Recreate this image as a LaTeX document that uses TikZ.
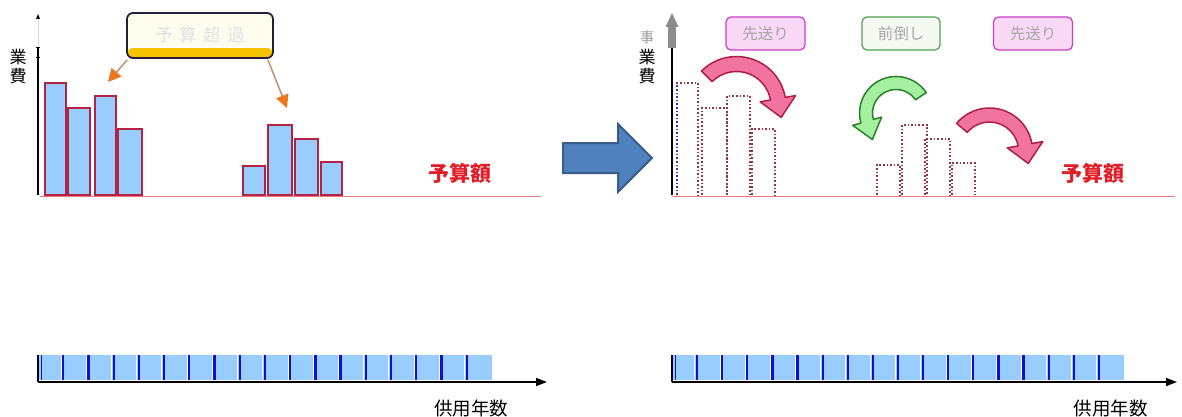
\documentclass[tikz,border=0pt]{standalone}
\usepackage{fontspec}
\newfontfamily\jp{Noto Sans CJK JP}
\usetikzlibrary{arrows.meta,calc}
\definecolor{barblue}{RGB}{153,204,255}
\definecolor{barred}{RGB}{180,35,65}
\definecolor{divblue}{RGB}{15,15,210}
\definecolor{budgetred}{RGB}{240,120,130}
\definecolor{labelred}{RGB}{225,30,40}
\definecolor{bigblue}{RGB}{79,129,189}
\definecolor{bigblueb}{RGB}{56,93,138}
\definecolor{pinkfill}{RGB}{240,115,160}
\definecolor{pinkdraw}{RGB}{175,30,70}
\definecolor{greenfill}{RGB}{165,240,160}
\definecolor{greendraw}{RGB}{40,130,40}
\definecolor{dotred}{RGB}{150,50,70}
\definecolor{dotpurple}{RGB}{90,40,160}
\definecolor{tagpinkfill}{RGB}{248,216,244}
\definecolor{tagpinkdraw}{RGB}{204,60,200}
\definecolor{taggreenfill}{RGB}{244,250,242}
\definecolor{taggreendraw}{RGB}{80,160,80}
\definecolor{cream}{RGB}{255,252,238}
\definecolor{gold}{RGB}{245,195,0}
\definecolor{calloutdraw}{RGB}{40,30,60}
\definecolor{arroworange}{RGB}{235,120,30}
\definecolor{arrowline}{RGB}{190,145,105}
\newcommand{\bentarrow}[9]{%
\pgfmathsetmacro\BAro{#3+#7}%
\pgfmathsetmacro\BAri{#3-#7}%
\pgfmathsetmacro\BAho{#3+#8}%
\pgfmathsetmacro\BAhi{#3-#8}%
\pgfmathsetmacro\BAta{#5+#6}%
\path[#9] ($(#1,#2)+(#4:\BAro)$) arc[start angle=#4, end angle=#5, radius=\BAro]
 -- ($(#1,#2)+(#5:\BAho)$) -- ($(#1,#2)+(#5:#3)+(\BAta:19)$)
 -- ($(#1,#2)+(#5:\BAhi)$) -- ($(#1,#2)+(#5:\BAri)$)
 arc[start angle=#5, end angle=#4, radius=\BAri] -- cycle;}
\tikzset{
 costbar/.style={draw=barred, line width=2pt, fill=barblue},
 dotbar/.style={draw=dotred, line width=1.6pt, dotted},
 budget/.style={draw=budgetred, line width=1pt},
 axislabel/.style={font=\jp\fontsize{17}{17}\selectfont, inner sep=0pt},
 budgetlabel/.style={font=\jp\bfseries\fontsize{21}{21}\selectfont, text=labelred, inner sep=0pt},
 yearlabel/.style={font=\jp\fontsize{18.5}{18.5}\selectfont, inner sep=0pt},
 tagpink/.style={draw=tagpinkdraw, fill=tagpinkfill, line width=1.2pt, rounded corners=5pt, minimum width=79pt, minimum height=33pt, inner sep=0pt, text=black!35, font=\jp\fontsize{15.5}{15.5}\selectfont},
 taggreen/.style={draw=taggreendraw, fill=taggreenfill, line width=1.2pt, rounded corners=5pt, minimum width=78pt, minimum height=33pt, inner sep=0pt, text=black!35, font=\jp\fontsize{15.5}{15.5}\selectfont},
 callout/.style={draw=calloutdraw, fill=cream, line width=1.8pt, rounded corners=6pt, minimum width=146pt, minimum height=45pt, inner sep=0pt, text=black!12, font=\jp\fontsize{17}{17}\selectfont,
   path picture={\fill[gold] (path picture bounding box.south west) rectangle ([yshift=10pt]path picture bounding box.south east);
   \draw[white, line width=1pt] ([yshift=10pt]path picture bounding box.south west) -- ([yshift=10pt]path picture bounding box.south east);}},
 orarrow/.style={draw=arrowline, line width=1.5pt, -{Triangle[length=13pt,width=13pt,color=arroworange]}},
 pinkarrow/.style={fill=pinkfill, draw=pinkdraw, line width=1.5pt, line join=round},
 greenarrow/.style={fill=greenfill, draw=greendraw, line width=1.5pt, line join=round},
 timeaxis/.style={draw=black, line width=1.5pt, -{Triangle[length=11pt,width=8pt]}}
}
\begin{document}
\begin{tikzpicture}[x=1pt,y=1pt]
\useasboundingbox (0,0) rectangle (1182,416);
% ================= LEFT PANEL =================
% y axis
\draw[black!15, line width=1pt] (38,369) -- (38,398);
\fill[black] (36,397) -- (40,397) -- (38,402) -- cycle;
\draw[black, line width=1.5pt] (38,221) -- (38,369);
\draw[black, line width=1pt] (36,368) -- (40,368);
\draw[black, line width=1pt] (36,358) -- (40,358);
\node[axislabel] (l-gyo) at (18,359) {業};
\node[axislabel] (l-hi) at (18,340) {費};
% bars
\draw[costbar] (45,221) rectangle (66,333);
\draw[costbar] (68,221) rectangle (90,308);
\draw[costbar] (95,221) rectangle (116,320);
\draw[costbar] (118,221) rectangle (142,287);
\draw[costbar] (243,221) rectangle (265,250);
\draw[costbar] (268,221) rectangle (292,291);
\draw[costbar] (295,221) rectangle (318,277);
\draw[costbar] (321,221) rectangle (342,254);
% budget
\draw[budget] (40,220) -- (541,220);
\node[budgetlabel] (l-budget) at (460,243) {予算額};
% callout
\node[callout] (over) at (200,380.5) {予\hspace{7pt}算\hspace{7pt}超\hspace{7pt}過};
\coordinate (oa1) at (108,334);
\coordinate (oa2) at (287,308);
\draw[orarrow] ([xshift=1pt,yshift=-1pt]over.south west) -- (oa1);
\draw[orarrow] ([xshift=-6pt,yshift=-1pt]over.south east) -- (oa2);
% bottom strip
\fill[barblue] (38,36) rectangle (492,61);
\foreach \k in {1,...,17} {
  \pgfmathsetmacro\xx{38+\k*25.22}
  \draw[white, line width=1pt] (\xx-2.2,36) -- (\xx-2.2,61);
  \draw[divblue, line width=2.3pt] (\xx,36) -- (\xx,61);
}
\draw[black, line width=1.3pt] (38,34) -- (38,61);
\draw[divblue, line width=1.5pt] (41.5,36) -- (41.5,61);
\coordinate (l-axstart) at (38,34);
\coordinate (l-axend) at (547,34);
\draw[timeaxis] (l-axstart) -- (l-axend);
\node[yearlabel] (l-year) at (471,8) {供用年数};
% ================= CENTER ARROW =================
\draw[fill=bigblue, draw=bigblueb, line width=2pt, line join=miter]
  (563,243) -- (618,243) -- (618,224) -- (652,258) -- (618,292) -- (618,273) -- (563,273) -- cycle;
% ================= RIGHT PANEL =================
\fill[black!45] (668,368) rectangle (676,389);
\fill[black!45] (665.5,389) -- (678.5,389) -- (672,403) -- cycle;
\draw[black, line width=2pt] (672,221) -- (672,368);
\node[axislabel, text=black!40, font=\jp\fontsize{14}{14}\selectfont] (r-ji) at (647,379) {事};
\node[axislabel] (r-gyo) at (647,359) {業};
\node[axislabel] (r-hi) at (647,340) {費};
% dotted bars
\draw[dotbar] (677,221) -- (677,333) -- (698,333) -- (698,221);
\draw[draw=dotpurple, line width=1.6pt, dotted] (677,221) -- (677,333);
\draw[dotbar] (702,221) -- (702,308) -- (727,308) -- (727,221);
\draw[dotbar] (727,221) -- (727,320) -- (750,320) -- (750,221);
\draw[dotbar] (752,221) -- (752,287) -- (775,287) -- (775,221);
\draw[dotbar] (877,221) -- (877,251) -- (900,251) -- (900,221);
\draw[dotbar] (902,221) -- (902,291) -- (927,291) -- (927,221);
\draw[dotbar] (925,221) -- (925,277) -- (950,277) -- (950,221);
\draw[dotbar] (952,221) -- (952,253) -- (975,253) -- (975,221);
% budget
\draw[budget] (672,220) -- (1175,220);
\node[budgetlabel] (r-budget) at (1093,243) {予算額};
% tags
\node[tagpink] (tag1) at (765.5,382.5) {先送り};
\node[taggreen] (tag2) at (901,382.5) {前倒し};
\node[tagpink] (tag3) at (1033,382.5) {先送り};
% curved arrows
\bentarrow{736.5}{310}{42}{135}{10}{-90}{7.5}{18}{pinkarrow}
\bentarrow{896}{303}{30}{34}{196}{90}{6.5}{15}{greenarrow}
\bentarrow{989.5}{265}{36}{140}{10}{-90}{7}{18}{pinkarrow}
% bottom strip
\fill[barblue] (672,36) rectangle (1124,61);
\foreach \k in {1,...,17} {
  \pgfmathsetmacro\xx{672+\k*25.11}
  \draw[white, line width=1pt] (\xx-2.2,36) -- (\xx-2.2,61);
  \draw[divblue, line width=2.3pt] (\xx,36) -- (\xx,61);
}
\draw[black, line width=1.3pt] (672,34) -- (672,61);
\draw[divblue, line width=1.5pt] (675.5,36) -- (675.5,61);
\coordinate (r-axstart) at (672,34);
\coordinate (r-axend) at (1177,34);
\draw[timeaxis] (r-axstart) -- (r-axend);
\node[yearlabel] (r-year) at (1110.5,8) {供用年数};
\end{tikzpicture}
\end{document}
